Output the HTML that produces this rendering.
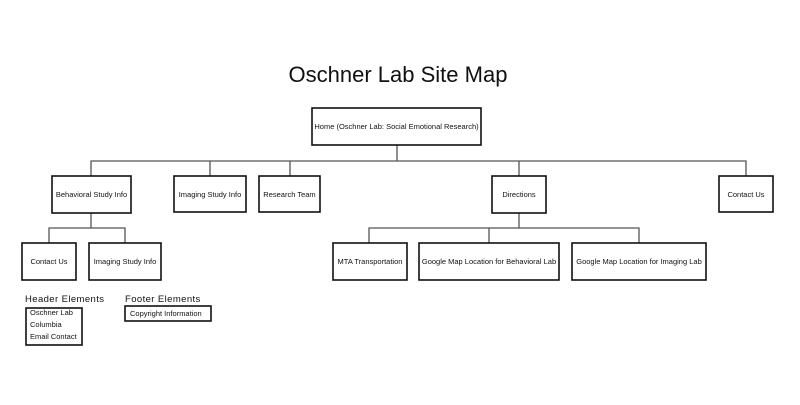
<!DOCTYPE html>
<html><head><style>
body{margin:0;background:#fff;}
svg text{font-family:"Liberation Sans",sans-serif;fill:#111;}
</style></head><body>
<svg width="800" height="400" xmlns="http://www.w3.org/2000/svg">
<text x="398" y="82" font-size="22" text-anchor="middle">Oschner Lab Site Map</text>
<g stroke="#555" stroke-width="1.3" fill="none">
<path d="M397 145V161M91 176V161H746V176M210 161V176M290 161V176M519 161V176"/>
<path d="M91 213V228M49 243V228H125V243"/>
<path d="M519 213V228M369 243V228H639V243M489 228V243"/>
</g>
<g stroke="#111" stroke-width="1.6" fill="#fff">
<rect x="312" y="108" width="169" height="37"/>
<rect x="52" y="176" width="79" height="37"/>
<rect x="174" y="176" width="72" height="36"/>
<rect x="259" y="176" width="61" height="36"/>
<rect x="492" y="176" width="54" height="37"/>
<rect x="719" y="176" width="54" height="36"/>
<rect x="22" y="243" width="54" height="37"/>
<rect x="89" y="243" width="72" height="37"/>
<rect x="333" y="243" width="74" height="37"/>
<rect x="419" y="243" width="140" height="37"/>
<rect x="572" y="243" width="134" height="37"/>
<rect x="26" y="308" width="56" height="37"/>
<rect x="125" y="306" width="86" height="15"/>
</g>
<g font-size="7.5" text-anchor="middle">
<text x="396.5" y="129">Home (Oschner Lab: Social Emotional Research)</text>
<text x="91.5" y="197">Behavioral Study Info</text>
<text x="210" y="197">Imaging Study Info</text>
<text x="289.5" y="197">Research Team</text>
<text x="519" y="197">Directions</text>
<text x="746" y="197">Contact Us</text>
<text x="49" y="264">Contact Us</text>
<text x="125" y="264">Imaging Study Info</text>
<text x="370" y="264">MTA Transportation</text>
<text x="489" y="264">Google Map Location for Behavioral Lab</text>
<text x="639" y="264">Google Map Location for Imaging Lab</text>
</g>
<g font-size="7.5">
<text x="30" y="315">Oschner Lab</text>
<text x="30" y="327">Columbia</text>
<text x="30" y="339">Email Contact</text>
<text x="130" y="316">Copyright Information</text>
</g>
<g font-size="9.5" letter-spacing="0.4">
<text x="25" y="302">Header Elements</text>
<text x="125" y="302">Footer Elements</text>
</g>
</svg>
</body></html>
